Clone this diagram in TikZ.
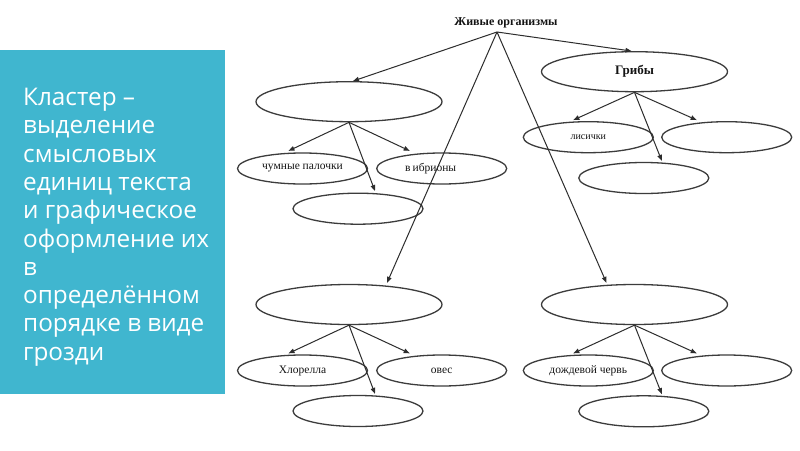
\documentclass[tikz,border=0pt]{standalone}
\usepackage{fontspec}
\setmainfont{Liberation Serif}
\newfontfamily\panelfont{Open Sans}
\usetikzlibrary{shapes.geometric,arrows.meta}
\definecolor{panelcol}{RGB}{64,182,207}
\definecolor{ellcol}{RGB}{60,60,60}
\definecolor{linecol}{RGB}{45,45,45}
\definecolor{txtcol}{RGB}{20,20,20}
\begin{document}
\begin{tikzpicture}[x=1pt,y=-1pt,
  big/.style={ellipse, draw=ellcol, line width=1.3pt, minimum width=186pt, minimum height=40pt, inner sep=0pt, text=txtcol},
  small/.style={ellipse, draw=ellcol, line width=1.3pt, minimum width=130pt, minimum height=31pt, inner sep=0pt, text=txtcol, font=\fontsize{11.5}{12}\selectfont},
  arr/.style={draw=linecol, line width=1pt, -{Triangle[length=6pt,width=4.5pt]}}
]
\useasboundingbox[fill=white] (0,0) rectangle (800,450);
% left panel
\fill[panelcol] (0,50) rectangle (225,394);
\node[anchor=north west, inner sep=0pt, align=left, text=white,
      font=\panelfont\fontsize{24.3}{28.3}\selectfont] (panel) at (23,88)
  {Кластер –\\выделение\\смысловых\\единиц текста\\и графическое\\оформление их\\в\\определённом\\порядке в виде\\грозди};
% root
\node[inner sep=0pt, text=txtcol, font=\bfseries\fontsize{12}{14}\selectfont] (root) at (506,23) {Живые организмы};
\coordinate (apex) at (497,32);
% main ellipses
\node[big] (A) at (349,101.7) {};
\node[big, font=\bfseries\fontsize{13}{14}\selectfont] (G) at (634.5,71.7) {Грибы};
\node[big] (LM) at (349,304.5) {};
\node[big] (RM) at (634.5,304.5) {};
% children
\node[small] (chum) at (302.5,168.5) {чумные палочки};
\node[small] (vib) at (441.7,168.5) {\raisebox{3pt}{в\hspace{2pt}ибрионы}\hspace*{22pt}\mbox{}};
\node[small] (bot1) at (358,208.7) {};
\node[small, font=\fontsize{10}{11}\selectfont] (lis) at (588.3,137.2) {лисички};
\node[small] (gr) at (726.7,137.2) {};
\node[small] (gb) at (643.8,178) {};
\node[small] (chl) at (302.5,370.5) {Хлорелла};
\node[small] (oves) at (441.7,370.5) {овес};
\node[small] (lb) at (358,411) {};
\node[small] (dozh) at (588.3,370.5) {дождевой червь};
\node[small] (rr) at (726.7,370.5) {};
\node[small] (rb) at (643.8,411.3) {};
% root arrows
\draw[arr] (apex) -- ([xshift=4pt]A.north);
\draw[arr] (apex) -- ([xshift=-3pt]G.north);
\draw[arr] (apex) -- ([xshift=38pt,yshift=1pt]LM.north);
\draw[arr] (apex) -- ([xshift=-28pt,yshift=1pt]RM.north);
% cluster arrows
\draw[arr] (A.south) -- ([xshift=-14pt,yshift=1.5pt]chum.north);
\draw[arr] (A.south) -- ([xshift=-32pt,yshift=1.5pt]vib.north);
\draw[arr] (A.south) -- ([xshift=17pt,yshift=1.5pt]bot1.north);
\draw[arr] (G.south) -- ([xshift=-15pt,yshift=1pt]lis.north);
\draw[arr] (G.south) -- ([xshift=-30pt,yshift=1pt]gr.north);
\draw[arr] (G.south) -- ([xshift=18pt,yshift=1pt]gb.north);
\draw[arr] (LM.south) -- ([xshift=-14pt,yshift=1pt]chl.north);
\draw[arr] (LM.south) -- ([xshift=-32pt,yshift=1pt]oves.north);
\draw[arr] (LM.south) -- ([xshift=17pt,yshift=1pt]lb.north);
\draw[arr] (RM.south) -- ([xshift=-15pt,yshift=1pt]dozh.north);
\draw[arr] (RM.south) -- ([xshift=-30pt,yshift=1pt]rr.north);
\draw[arr] (RM.south) -- ([xshift=18pt,yshift=1pt]rb.north);
\end{tikzpicture}
\end{document}
